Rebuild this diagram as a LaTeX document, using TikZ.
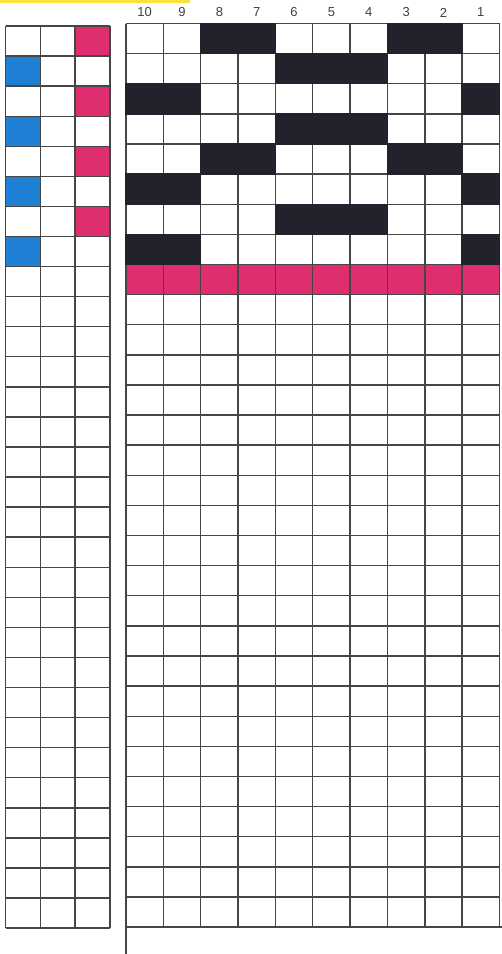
\documentclass[tikz,border=0pt]{standalone}
\usepackage{fontspec}
\setmainfont{Liberation Sans}
\definecolor{pinkc}{RGB}{222,46,112}
\definecolor{bluec}{RGB}{30,128,212}
\definecolor{blackc}{RGB}{34,34,44}
\definecolor{gridc}{RGB}{70,70,70}
\definecolor{stripc}{RGB}{250,225,60}
\tikzset{
  gridline/.style={draw=gridc, line width=1.4pt},
  numlabel/.style={font=\fontsize{13}{13}\selectfont, text=gridc!90!black, inner sep=0pt}
}
\begin{document}
\begin{tikzpicture}[x=1pt,y=-1pt]
\useasboundingbox (0,0) rectangle (502,954);
\fill[white] (0,0) rectangle (502,954);
\fill[stripc] (0,0) rectangle (190,2.5);
% left grid geometry
\def\lx{5.5}\def\lw{34.8}\def\ly{26}\def\lh{30.07}
% right grid geometry
\def\rx{126}\def\rw{37.35}\def\ry{23.5}\def\rh{30.12}
% left grid fills
\foreach \r in {0,2,4,6}
  \fill[pinkc] ({\lx+2*\lw},{\ly+\r*\lh}) rectangle ++(\lw,\lh);
\foreach \r in {1,3,5,7}
  \fill[bluec] ({\lx},{\ly+\r*\lh}) rectangle ++(\lw,\lh);
% pink row of the right grid
\fill[pinkc] ({\rx},{\ry+8*\rh}) rectangle ++({10*\rw},\rh);
% left grid lines
\foreach \i in {0,...,3}
  \draw[gridline] ({\lx+\i*\lw},{\ly}) -- ({\lx+\i*\lw},{\ly+30*\lh});
\foreach \j in {0,...,30}
  \draw[gridline] ({\lx},{\ly+\j*\lh}) -- ({\lx+3*\lw},{\ly+\j*\lh});
% right grid lines
\foreach \i in {0,...,10}
  \draw[gridline] ({\rx+\i*\rw},{\ry}) -- ({\rx+\i*\rw},{\ry+30*\rh});
\foreach \j in {0,...,30}
  \draw[gridline] ({\rx},{\ry+\j*\rh}) -- ({\rx+10*\rw},{\ry+\j*\rh});
% right grid black cells (col index from left, row index from top)
\foreach \c/\r in {2/0,3/0,7/0,8/0,
                   4/1,5/1,6/1,
                   0/2,1/2,9/2,
                   4/3,5/3,6/3,
                   2/4,3/4,7/4,8/4,
                   0/5,1/5,9/5,
                   4/6,5/6,6/6,
                   0/7,1/7,9/7}
  \fill[blackc] ({\rx+\c*\rw-0.7},{\ry+\r*\rh-0.7}) rectangle ++({\rw+1.4},{\rh+1.4});
% extension below the right grid
\coordinate (extA) at ({\rx},{\ry+30*\rh});
\coordinate (extB) at ({\rx},954);
\coordinate (extC) at (502,{\ry+30*\rh});
\draw[gridline] (extA) -- (extB);
\draw[gridline] (extA) -- (extC);
% column numbers
\foreach \i in {0,...,9} {
  \pgfmathtruncatemacro{\n}{10-\i}
  \node[numlabel] (num\n) at ({\rx+(\i+0.5)*\rw},12.5) {\n};
}
\end{tikzpicture}
\end{document}
